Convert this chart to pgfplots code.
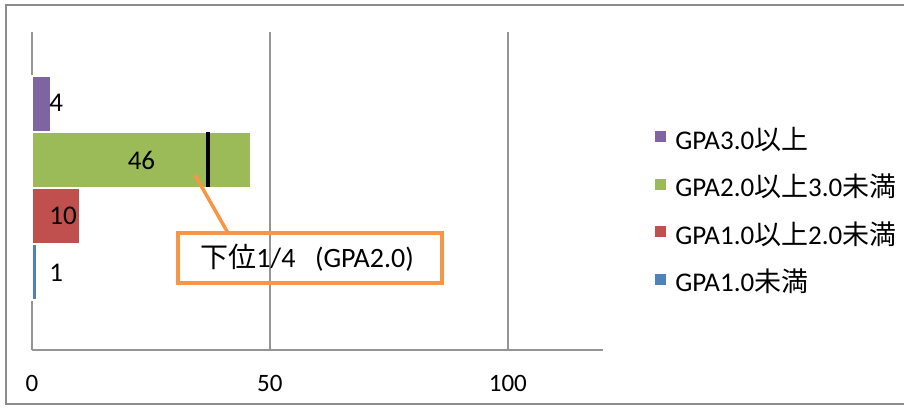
\documentclass[border=0pt]{standalone}
\usepackage{fontspec}
\setmainfont{Carlito}
\newfontfamily\jp{Noto Sans CJK JP}
\usepackage{pgfplots}
\pgfplotsset{compat=1.18}

\definecolor{gpablue}{HTML}{4F81BD}
\definecolor{gpared}{HTML}{C0504D}
\definecolor{gpagreen}{HTML}{9BBB59}
\definecolor{gpapurple}{HTML}{8064A2}
\definecolor{callout}{HTML}{F79646}
\definecolor{gridgray}{HTML}{959595}
\definecolor{framegray}{HTML}{8C8C8C}

\begin{document}
\begin{tikzpicture}[font=\fontsize{13.5}{16}\selectfont]
\useasboundingbox (0,0) rectangle (452pt,203.5pt);
\begin{axis}[
  at={(16pt,28.5pt)}, anchor=south west,
  scale only axis, width=285.5pt, height=159pt,
  xmin=0, xmax=120, ymin=0, ymax=5.679,
  axis x line=bottom, axis y line=left,
  axis line style={-, draw=gridgray, line width=0.75pt},
  xtick={0,50,100}, ytick=\empty,
  major tick length=0pt,
  xmajorgrids,
  major grid style={draw=gridgray, line width=0.75pt},
  xticklabel style={font=\fontsize{12.5}{14}\selectfont, yshift=-9pt},
  /pgf/number format/assume math mode=true,
  clip=false,
  reverse legend,
  legend cell align=left,
  legend style={at={(1.0911,0.6887)}, anchor=north west, draw=none, fill=none,
    inner sep=0pt, row sep=12.75pt,
    nodes={inner sep=0pt, text height=7pt, text depth=2pt},
    /tikz/every odd column/.append style={column sep=4.5pt}},
  legend image code/.code={\fill[#1, draw=none] (0pt,1pt) rectangle (5.5pt,6.5pt);},
  bar/.style={xbar, bar width=1, bar shift=0pt, draw=white, line width=0.6pt},
]
% one bar per GPA band
\addplot[bar, fill=gpablue] coordinates {(1,1.393)};
\addlegendentry{GPA1.0{\jp 未満}}
\addplot[bar, fill=gpared] coordinates {(10,2.393)};
\addlegendentry{GPA1.0{\jp 以上}2.0{\jp 未満}}
\addplot[bar, fill=gpagreen] coordinates {(46,3.393)};
\addlegendentry{GPA2.0{\jp 以上}3.0{\jp 未満}}
\addplot[bar, fill=gpapurple] coordinates {(4,4.393)};
\addlegendentry{GPA3.0{\jp 以上}}
% lower quartile marker
\addplot[black, line width=2pt, forget plot] coordinates {(37,2.91) (37,3.89)};

\node[anchor=west, inner sep=0pt] at (axis cs:3.57,1.375) {1};
\node[anchor=west, inner sep=0pt] at (axis cs:3.57,2.39) {10};
\node[inner sep=0pt] at (axis cs:23.0,3.39) {46};
\node[anchor=west, inner sep=0pt] at (axis cs:3.57,4.41) {4};
\end{axis}

\begin{scope}[shift={(0pt,203.5pt)}, x=0.5pt, y=-0.5pt]
\draw[framegray, line width=0.9pt] (930,5) -- (6,5) -- (6,404) -- (930,404);
\draw[callout, line width=1.75pt] (195,175) -- (228,233);
\draw[callout, line width=2pt] (178,233) rectangle (442,283);
\node[font=\fontsize{14}{16}\selectfont] at (307,258) {{\jp 下位}1/4\hspace{0.7em}(GPA2.0)};
\end{scope}
\end{tikzpicture}
\end{document}
